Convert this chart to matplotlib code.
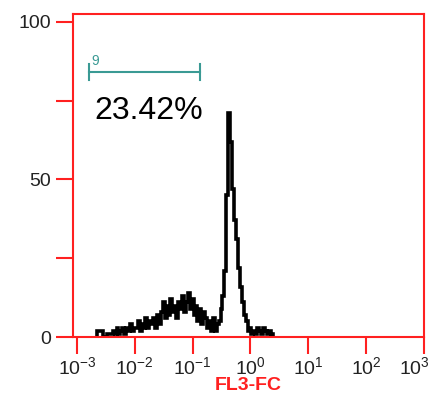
"""
FL3-FC histogram with a single marker gate (log x axis, red frame).
"""
from matplotlib import pyplot as plt
from matplotlib.transforms import ScaledTranslation
import numpy as np

plt.rcParams['font.family'] = ['Liberation Sans', 'DejaVu Sans']
plt.rcParams['mathtext.fontset'] = 'custom'
plt.rcParams['mathtext.rm'] = 'Liberation Sans'

# histogram: channel counts, 30 channels per decade starting at 10^-2.65
LOG_START = -2.65
CHANNELS_PER_DECADE = 30
COUNTS = [2, 2, 2, 0, 0, 1, 1,
          1, 2, 1, 3, 1, 2, 3, 1, 3, 2, 4, 2, 3,
          3, 5, 2, 4, 3, 6, 3, 5, 4, 6, 3, 7, 4,
          8, 11, 6, 10, 7, 12, 8, 10, 6, 11, 9, 13, 8, 11, 14, 9,
          12, 7, 10, 5, 9, 4, 8, 6,
          3, 5, 2, 6, 2, 4,
          5, 9, 13, 21, 45, 71, 62, 47, 37, 31, 22, 16, 11, 7, 5, 2,
          3, 1, 2, 1, 3, 2, 1, 3, 2, 1, 2, 1]

# marker gate
GATE_LO = 10 ** -2.79
GATE_HI = 10 ** -0.88
GATE_LEVEL = 84
GATE_NAME = "9"
GATE_PCT = "23.42%"

XTICKS = [1e-3, 1e-2, 1e-1, 1e0, 1e1, 1e2, 1e3]
XTICKLABELS = [r'$\mathregular{10^{-3}}$', r'$\mathregular{10^{-2}}$',
               r'$\mathregular{10^{-1}}$', r'$\mathregular{10^{0}}$',
               r'$\mathregular{10^{1}}$', r'$\mathregular{10^{2}}$',
               r'$\mathregular{10^{3}}$']
YTICKS = [0, 25, 50, 75, 100]
YTICKLABELS = ["0", "", "50", "", "100"]

RED = "#ff2020"
TEAL = "#3a9a94"

fig = plt.figure(figsize=(4.32, 3.98), dpi=100)
ax = fig.add_axes([0.169, 0.153, 0.812, 0.812])

edges = 10 ** (LOG_START + np.arange(len(COUNTS) + 1) / CHANNELS_PER_DECADE)
ax.stairs(COUNTS, edges, color="black", linewidth=2.6)

ax.set_xscale("log")
ax.set_xlim(10 ** -3.07, 1e3)
ax.set_ylim(0, 102.5)

ax.set_xticks(XTICKS)
ax.set_xticklabels(XTICKLABELS)
ax.xaxis.set_minor_locator(plt.NullLocator())
ax.set_yticks(YTICKS)
ax.set_yticklabels(YTICKLABELS)

for side in ax.spines.values():
    side.set_color(RED)
    side.set_linewidth(1.5)
ax.tick_params(axis="both", colors=RED, length=12, width=1.5, labelcolor="#222222",
               labelsize=14)
ax.tick_params(axis="x", pad=2)
ax.tick_params(axis="y", pad=4)
# last label squeezed against the figure edge, as in the original
last = ax.get_xticklabels()[-1]
last.set_horizontalalignment("right")
last.set_transform(last.get_transform() + ScaledTranslation(0.06, 0, fig.dpi_scale_trans))

ax.set_xlabel("FL3-FC", color=RED, fontweight="bold", fontsize=14, labelpad=-1)

# gate marker
ax.plot([GATE_LO, GATE_HI], [GATE_LEVEL, GATE_LEVEL], color=TEAL, linewidth=1.5)
ax.plot([GATE_LO, GATE_LO], [GATE_LEVEL - 2.5, GATE_LEVEL + 2.5], color=TEAL, linewidth=1.5)
ax.plot([GATE_HI, GATE_HI], [GATE_LEVEL - 2.5, GATE_LEVEL + 2.5], color=TEAL, linewidth=1.5)
ax.text(GATE_LO * 1.1, GATE_LEVEL + 1.5, GATE_NAME, color=TEAL, fontsize=10,
        va="bottom", ha="left")
ax.text(GATE_LO * 1.25, GATE_LEVEL - 7.5, GATE_PCT, color="black", fontsize=23,
        va="top", ha="left")

fig.savefig("out.png", dpi=100)
